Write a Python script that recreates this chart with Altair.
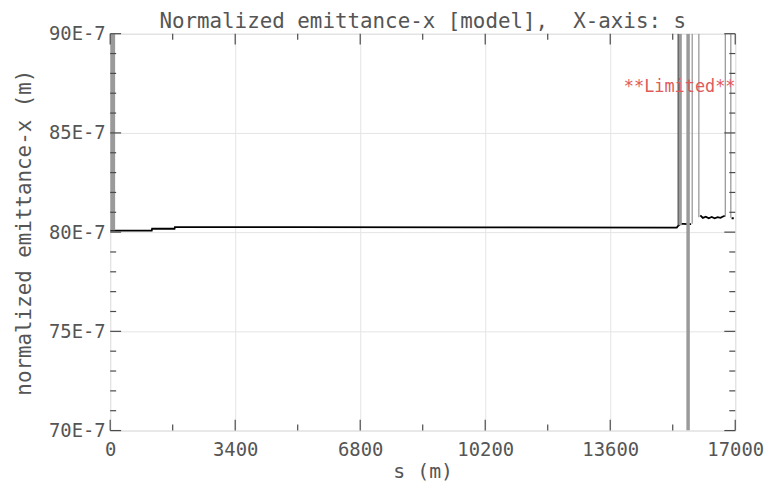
import altair as alt
import pandas as pd

# ---------------- data (values in units of 1E-7 m) ----------------
line_s = [0, 1130, 1140, 1750, 1760, 5000, 10000, 15410, 15440, 15515,
          15600, 15700, 15800]
line_v = [80.08, 80.08, 80.17, 80.17, 80.25, 80.25, 80.24, 80.23, 80.30, 80.42,
          80.42, 80.40, 80.40]

wiggle_s = [16050, 16120, 16200, 16280, 16360, 16440, 16520, 16600, 16680, 16720]
wiggle_v = [80.85, 80.72, 80.78, 80.70, 80.76, 80.70, 80.75, 80.72, 80.80, 80.82]

end_s = [16900, 16960]
end_v = [80.70, 80.70]

spike_s = [67, 15500, 15718, 15830, 16010, 16730, 16880]
spike_lo = [80.10, 80.35, 70.0, 80.42, 80.75, 80.78, 80.72]
spike_hi = [90.0, 90.0, 90.0, 90.0, 90.0, 90.0, 90.0]
spike_kind = ["band", "thick", "thick", "thin", "thin", "thin", "thin"]

x_major = [0, 3400, 6800, 10200, 13600, 17000]
x_minor = [1700, 5100, 8500, 11900, 15300]
y_major = [70, 75, 80, 85, 90]
y_minor = [71, 72, 73, 74, 76, 77, 78, 79, 81, 82, 83, 84, 86, 87, 88, 89]

title_text = "Normalized emittance-x [model],\u00a0 X-axis: s"
x_title = "s (m)"
y_title = "normalized emittance-x (m)"
note_text = "**Limited**"

# ---------------- layout ----------------
W, H = 630, 400
FONT = "DejaVu Sans Mono"
TXT = "#555555"
AX = "#4a4a4a"

xs = alt.Scale(domain=[0, 17000], nice=False, zero=False)
ys = alt.Scale(domain=[70, 90], nice=False, zero=False)

line_df = pd.DataFrame(
    {"s": line_s + wiggle_s + end_s,
     "v": line_v + wiggle_v + end_v,
     "seg": ["a"] * len(line_s) + ["b"] * len(wiggle_s) + ["c"] * len(end_s)}
)
spike_df = pd.DataFrame({"s": spike_s, "lo": spike_lo, "hi": spike_hi, "kind": spike_kind})
xmaj_df = pd.DataFrame({"s": x_major})
xmin_df = pd.DataFrame({"s": x_minor})
ymaj_df = pd.DataFrame({"v": y_major})
ymin_df = pd.DataFrame({"v": y_minor})

base_x = alt.X(
    "s:Q", scale=xs,
    axis=alt.Axis(values=x_major, format="d", grid=True, gridColor="#e4e4e4", gridWidth=1,
                  ticks=False, domain=False, labelFlush=False, labelOverlap=False,
                  labelFont=FONT, labelFontSize=19, labelColor=TXT, labelPadding=10,
                  title=x_title, titleFont=FONT, titleFontSize=20, titleColor=TXT,
                  titleFontWeight="normal", titleY=41, titleBaseline="middle"),
)
base_y = alt.Y(
    "v:Q", scale=ys,
    axis=alt.Axis(values=y_major, grid=True, gridColor="#e4e4e4", gridWidth=1,
                  ticks=False, domain=False, labelFlush=False, labelOverlap=False,
                  labelExpr="datum.value + 'E-7'",
                  labelFont=FONT, labelFontSize=19, labelColor=TXT, labelPadding=5,
                  title=y_title, titleFont=FONT, titleFontSize=21, titleColor=TXT,
                  titleFontWeight="normal", titleX=-86, titleBaseline="middle"),
)

main_line = alt.Chart(line_df).mark_line(color="black", strokeWidth=1.8, clip=True).encode(
    x=base_x, y=base_y, detail="seg:N"
)

kind_width = {"band": 5, "thick": 3.5, "thin": 1.3}
spike_layers = []
for k, w in kind_width.items():
    spike_layers.append(
        alt.Chart(spike_df).transform_filter(alt.datum.kind == k)
        .mark_rule(color="#9a9a9a", strokeWidth=w, clip=True)
        .encode(x=alt.X("s:Q", scale=xs), y=alt.Y("lo:Q", scale=ys), y2="hi:Q")
    )

# thin dark edge of the first spike cluster
dark_edge = alt.Chart(spike_df).transform_filter(alt.datum.kind == "thick").transform_filter(
    alt.datum.lo > 75).mark_rule(color="#333333", strokeWidth=1, clip=True, xOffset=-2).encode(
    x=alt.X("s:Q", scale=xs), y=alt.Y("lo:Q", scale=ys), y2="hi:Q")

def xticks(df, length):
    bot = alt.Chart(df).mark_rule(color=AX, strokeWidth=1.2).encode(
        x=alt.X("s:Q", scale=xs), y=alt.value(H), y2=alt.value(H - length))
    top = alt.Chart(df).mark_rule(color=AX, strokeWidth=1.2).encode(
        x=alt.X("s:Q", scale=xs), y=alt.value(0), y2=alt.value(length))
    return [bot, top]

def yticks(df, length):
    left = alt.Chart(df).mark_rule(color=AX, strokeWidth=1.2).encode(
        y=alt.Y("v:Q", scale=ys), x=alt.value(0), x2=alt.value(length))
    right = alt.Chart(df).mark_rule(color=AX, strokeWidth=1.2).encode(
        y=alt.Y("v:Q", scale=ys), x=alt.value(W), x2=alt.value(W - length))
    return [left, right]

ticks = xticks(xmaj_df, 11) + xticks(xmin_df, 6) + yticks(ymaj_df, 11) + yticks(ymin_df, 6)

note = alt.Chart(pd.DataFrame({"t": [note_text]})).mark_text(
    font=FONT, fontSize=17, color="#e05a5a", align="center", baseline="middle"
).encode(text="t:N", x=alt.value(574), y=alt.value(54))

title_mark = alt.Chart(pd.DataFrame({"t": [title_text]})).mark_text(
    font=FONT, fontSize=21, color=TXT, align="center", baseline="alphabetic"
).encode(text="t:N", x=alt.value(W / 2), y=alt.value(-6))

chart = alt.layer(
    main_line, *spike_layers, dark_edge, *ticks, note, title_mark
).properties(
    width=W, height=H,
    autosize=alt.AutoSizeParams(type="none"),
    padding={"left": 103, "top": 24, "right": 30, "bottom": 56},
).configure_view(
    stroke=AX, strokeWidth=2
).configure(background="white")

chart.save("out.html", embed_options={"renderer": "svg", "actions": False})
